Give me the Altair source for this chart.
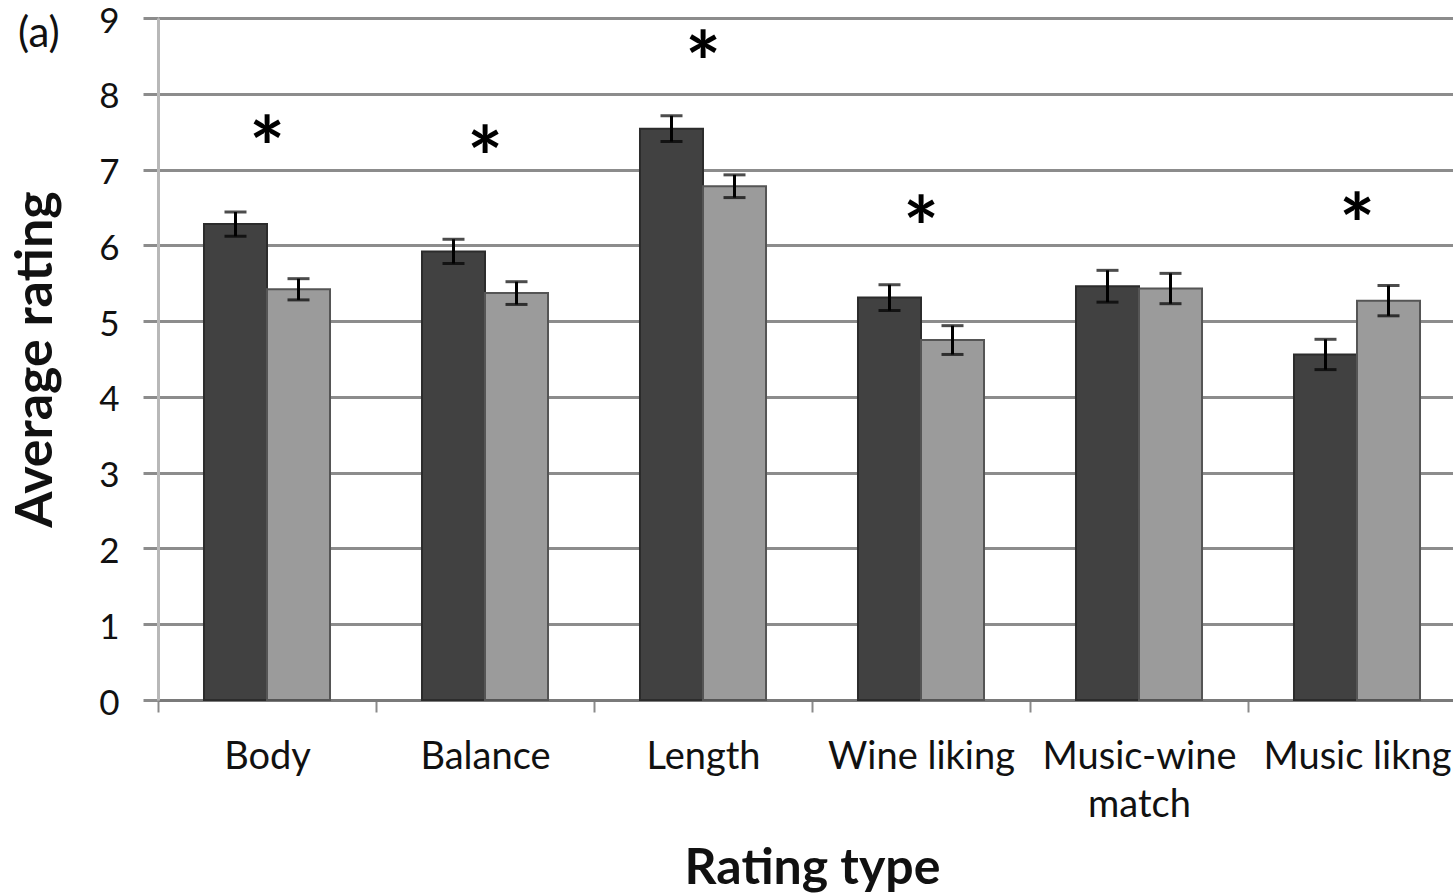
import altair as alt
import pandas as pd

# Rating categories on the x axis
categories = ["Body", "Balance", "Length", "Wine liking", "Music-wine match", "Music likng"]
groups = ["Group 1", "Group 2"]

# Mean ratings and standard errors for each group
group1_mean = [6.28, 5.92, 7.54, 5.31, 5.46, 4.56]
group1_err = [0.16, 0.16, 0.17, 0.17, 0.21, 0.20]
group2_mean = [5.42, 5.37, 6.78, 4.75, 5.43, 5.27]
group2_err = [0.14, 0.15, 0.15, 0.19, 0.20, 0.20]

# Significance markers (category, rating level where the star sits)
star_cats = ["Body", "Balance", "Length", "Wine liking", "Music likng"]
star_level = [7.52, 7.39, 8.64, 6.46, 6.50]

rows = []
for i, c in enumerate(categories):
    rows.append({"cat": c, "grp": groups[0], "mean": group1_mean[i], "err": group1_err[i]})
    rows.append({"cat": c, "grp": groups[1], "mean": group2_mean[i], "err": group2_err[i]})
df = pd.DataFrame(rows)
stars = pd.DataFrame({"cat": star_cats, "level": star_level, "mark": ["*"] * len(star_cats)})

FONT = "Lato"

x_enc = alt.X(
    "cat:N",
    sort=categories,
    scale=alt.Scale(range=[0, 1308], paddingInner=0, paddingOuter=0),
    axis=alt.Axis(
        title="Rating type",
        labelAngle=0,
        labelFont=FONT,
        labelFontSize=38,
        labelColor="#111111",
        labelPadding=26,
        labelLineHeight=48,
        labelLimit=0,
        labelExpr="datum.value == 'Music-wine match' ? ['Music-wine', 'match'] : datum.value",
        tickBand="extent",
        tickSize=12,
        tickColor="#8a8a8a",
        tickWidth=2,
        domainColor="#7a7a7a",
        domainWidth=3,
        grid=False,
        titleFont=FONT,
        titleFontSize=50,
        titleFontWeight="bold",
        titleColor="#111111",
        titleX=654,
        titleY=168,
        titleAlign="center",
        titleBaseline="middle",
    ),
)

y_scale = alt.Scale(domain=[0, 9], nice=False)
y_axis = alt.Axis(
    title="Average rating",
    values=list(range(10)),
    format="d",
    grid=True,
    gridColor="#8c8c8c",
    gridWidth=3,
    tickColor="#8c8c8c",
    tickWidth=3,
    tickSize=15,
    domainColor="#b8b8b8",
    domainWidth=3,
    labelFont=FONT,
    labelFontSize=35,
    labelColor="#111111",
    labelPadding=24,
    labelOffset=3,
    titleFont=FONT,
    titleFontSize=52,
    titleFontWeight="bold",
    titleColor="#111111",
    titleX=-123,
    titleY=341,
    titleAngle=270,
    titleAlign="center",
    titleBaseline="middle",
)

offset = alt.XOffset("grp:N", sort=groups, scale=alt.Scale(paddingInner=0, paddingOuter=0.73))

base = alt.Chart(df)

bars = base.mark_bar(strokeWidth=2).encode(
    x=x_enc,
    xOffset=offset,
    y=alt.Y("mean:Q", scale=y_scale, axis=y_axis),
    fill=alt.Fill("grp:N", sort=groups,
                  scale=alt.Scale(domain=groups, range=["#414141", "#9b9b9b"]), legend=None),
    stroke=alt.Stroke("grp:N", sort=groups,
                      scale=alt.Scale(domain=groups, range=["#2c2c2c", "#555555"]), legend=None),
)

err_base = base.transform_calculate(lo="datum.mean - datum.err", hi="datum.mean + datum.err")

err_rule = err_base.mark_rule(color="#000000", strokeWidth=3).encode(
    x=alt.X("cat:N", sort=categories),
    xOffset=offset,
    y="lo:Q",
    y2="hi:Q",
)
cap_lo = err_base.mark_tick(color="#000000", thickness=3, size=22).encode(
    x=alt.X("cat:N", sort=categories), xOffset=offset, y="lo:Q"
)
cap_hi = err_base.mark_tick(color="#000000", thickness=3, size=22).encode(
    x=alt.X("cat:N", sort=categories), xOffset=offset, y="hi:Q"
)

star_marks = alt.Chart(stars).mark_text(
    font=FONT, fontSize=84, fontWeight="bold", color="#000000", baseline="middle", dy=23
).encode(x=alt.X("cat:N", sort=categories), y="level:Q", text="mark:N")

panel_tag = alt.Chart(pd.DataFrame({"t": ["(a)"]})).mark_text(
    font=FONT, fontSize=42, color="#111111", align="left", baseline="middle"
).encode(text="t:N", x=alt.value(-140), y=alt.value(16))

chart = (
    alt.layer(bars, err_rule, cap_lo, cap_hi, star_marks, panel_tag)
    .properties(
        width=1295,
        height=682,
        autosize=alt.AutoSizeParams(type="none"),
        padding={"left": 158, "top": 18, "right": 0, "bottom": 196},
        background="#ffffff",
    )
    .configure_view(stroke=None)
)

chart.save("out.html", embed_options={"renderer": "svg", "actions": False})
